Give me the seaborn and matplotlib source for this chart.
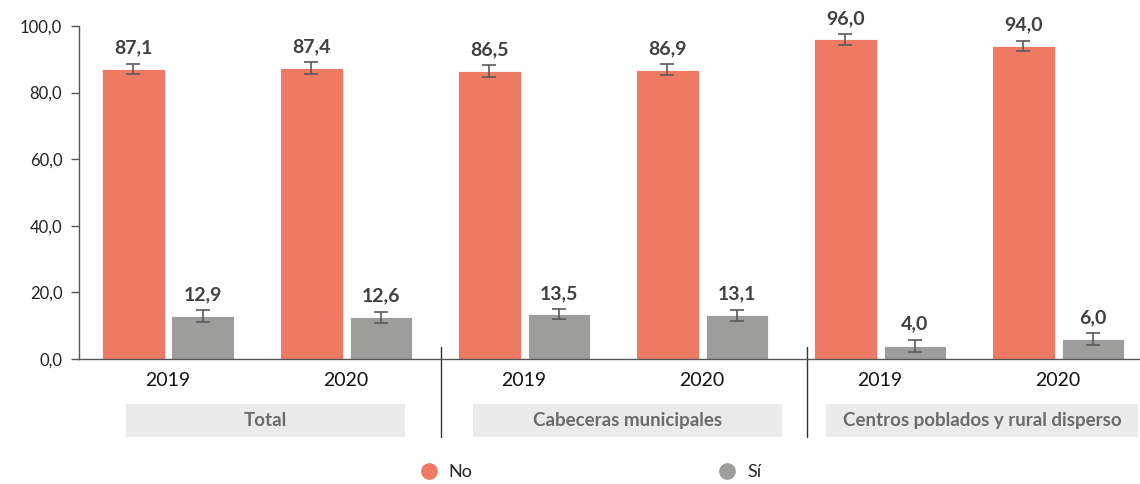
import matplotlib
matplotlib.use("Agg")
import matplotlib.pyplot as plt
import seaborn as sns
import pandas as pd
from matplotlib.patches import Rectangle
from matplotlib.lines import Line2D
import matplotlib.transforms as mtransforms

# ---- data ----
groups = ["Total", "Cabeceras municipales", "Centros poblados y rural disperso"]
years = ["2019", "2020"]
answers = ["No", "Sí"]
no_vals = [87.1, 87.4, 86.5, 86.9, 96.0, 94.0]
si_vals = [12.9, 12.6, 13.5, 13.1, 4.0, 6.0]
no_err = [1.6, 1.7, 1.75, 1.7, 1.6, 1.6]
si_err = [1.75, 1.65, 1.4, 1.75, 1.8, 1.7]
y_ticks = [0, 20, 40, 60, 80, 100]

colors = {"No": "#EE7A64", "Sí": "#9D9D9C"}

slots = [f"{g} {y}" for g in groups for y in years]
year_labels = [y for g in groups for y in years]
df = pd.DataFrame({
    "slot": slots * 2,
    "respuesta": ["No"] * len(slots) + ["Sí"] * len(slots),
    "valor": no_vals + si_vals,
})
errs = {"No": no_err, "Sí": si_err}

sns.set_theme(style="white")
plt.rcParams["font.family"] = ["Lato", "DejaVu Sans"]

fig = plt.figure(figsize=(11.4, 4.84), dpi=100)
ax = fig.add_axes([79 / 1140, (484 - 359) / 484, (1140 - 79) / 1140, 333 / 484])

sns.barplot(data=df, x="slot", y="valor", hue="respuesta", order=slots,
            hue_order=answers, palette=colors, width=0.78, gap=0.1,
            errorbar=None, legend=False, ax=ax, saturation=1,
            edgecolor="white", linewidth=0.6)

def fmt(v):
    return f"{v:.1f}".replace(".", ",")

for cont, ans in zip(ax.containers, answers):
    for bar, v, e in zip(cont, df[df.respuesta == ans]["valor"], errs[ans]):
        cx = bar.get_x() + bar.get_width() / 2
        ax.errorbar(cx, v, yerr=e, fmt="none", ecolor="#5a5a5a",
                    elinewidth=1.2, capsize=4.8, capthick=1.2, zorder=4)
        ax.annotate(fmt(v), (cx, v + e), xytext=(0, 5), textcoords="offset points",
                    ha="center", va="bottom", fontsize=14, fontweight="bold",
                    color="#404040")

ax.set_ylim(0, 100)
ax.set_xlim(-0.5, 5.46)
ax.set_yticks(y_ticks)
ax.set_yticklabels([fmt(t) for t in y_ticks], fontsize=12, color="#222222")
ax.set_xticks(range(len(slots)))
ax.set_xticklabels(year_labels, fontsize=14, color="#111111")
ax.tick_params(axis="x", length=0, pad=9)
ax.tick_params(axis="y", length=6, width=1, color="#555555", direction="out", left=True, pad=6)
ax.set_xlabel("")
ax.set_ylabel("")
for s in ["top", "right"]:
    ax.spines[s].set_visible(False)
ax.spines["left"].set_color("#555555")
ax.spines["bottom"].set_color("#555555")
ax.spines["left"].set_linewidth(1)
ax.spines["bottom"].set_linewidth(1)

trans = mtransforms.blended_transform_factory(ax.transData, ax.transAxes)
box_edges = [(-0.236, 1.331), (1.713, 3.449), (3.697, 5.449)]
for g, (x0, x1) in zip(groups, box_edges):
    ax.add_patch(Rectangle((x0, -0.234), x1 - x0, 0.099, transform=trans,
                           facecolor="#EBEBEB", edgecolor="none", clip_on=False))
    ax.text((x0 + x1) / 2, -0.1845, g, transform=trans, ha="center", va="center",
            fontsize=13.5, fontweight="bold", color="#6b6b6b")

for sx in [1.534, 3.590]:
    ax.add_line(Line2D([sx, sx], [0.036, -0.234], transform=trans, color="#333333",
                       linewidth=1, clip_on=False))

handles = [Line2D([], [], marker="o", linestyle="none", markersize=11,
                  markerfacecolor=colors[a], markeredgecolor=colors[a], label=a)
           for a in answers]
fig.legend(handles=handles, loc="center", bbox_to_anchor=(0.518, 0.025), ncol=2,
           frameon=False, fontsize=13, columnspacing=13.6, handletextpad=0.6,
           handlelength=1.0)

fig.savefig("out.png", dpi=100)
